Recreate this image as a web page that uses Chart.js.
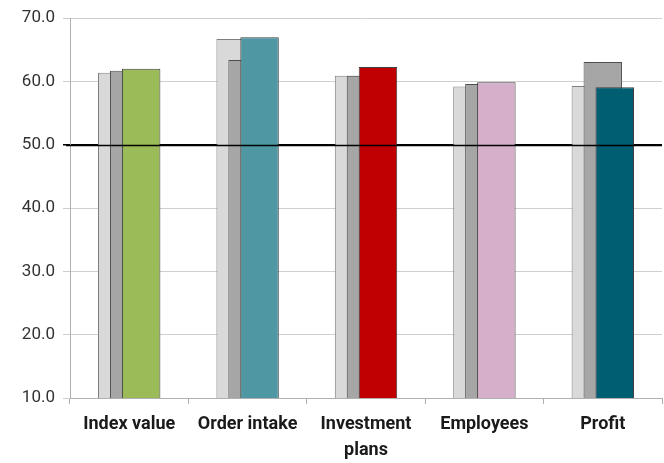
<!DOCTYPE html>
<html>
<head>
<meta charset="utf-8">
<script src="https://cdn.jsdelivr.net/npm/chart.js@4"></script>
<style>
  body { margin: 0; background: #fff; }
  #wrap { width: 664px; height: 463px; }
</style>
</head>
<body>
<div id="wrap"><canvas id="indexChart"></canvas></div>
<script>
// categories and values
const labels = ['Index value', 'Order intake', ['Investment', 'plans'], 'Employees', 'Profit'];
const previous2 = [61.4, 66.7, 60.9, 59.2, 59.3];
const previous1 = [61.7, 63.4, 60.9, 59.6, 63.1];
const current = [62.0, 67.0, 62.3, 59.9, 59.1];
const currentColors = ['#9bbb59', '#4f97a3', '#c00000', '#d6afca', '#005e72'];
const yTicks = [10, 20, 30, 40, 50, 60, 70];
const threshold = 50;

// bars overlap like in the spreadsheet: shift each series sideways a bit
const shiftBars = {
  id: 'shiftBars',
  afterDatasetsUpdate(chart) {
    const w = chart.scales.x.width / labels.length;
    chart.data.datasets.forEach((ds, i) => {
      chart.getDatasetMeta(i).data.forEach(bar => { bar.x += ds.shift * w; });
    });
  }
};

// the 50 line sits on top of the bars
const thresholdLine = {
  id: 'thresholdLine',
  afterDatasetsDraw(chart) {
    const { ctx, chartArea, scales } = chart;
    const y = Math.round(scales.y.getPixelForValue(threshold)) + 0.5;
    ctx.save();
    ctx.strokeStyle = '#000';
    ctx.lineWidth = 1.5;
    ctx.beginPath();
    ctx.moveTo(chartArea.left - 4, y);
    ctx.lineTo(chartArea.right, y);
    ctx.stroke();
    ctx.restore();
  }
};

new Chart(document.getElementById('indexChart'), {
  type: 'bar',
  data: {
    labels: labels,
    datasets: [
      { data: previous2, backgroundColor: '#d9d9d9', borderColor: '#7f7f7f', borderWidth: 1, shift: -0.101, order: 3 },
      { data: previous1, backgroundColor: '#a6a6a6', borderColor: '#4d4d4d', borderWidth: 1, shift: 0, order: 2 },
      { data: current, backgroundColor: currentColors, borderColor: '#3f3f3f', borderWidth: 1, shift: 0.101, order: 1 }
    ]
  },
  options: {
    responsive: true,
    maintainAspectRatio: false,
    animation: false,
    grouped: false,
    categoryPercentage: 1,
    barPercentage: 0.325,
    layout: { padding: { top: 8, right: 2, left: 0, bottom: 0 } },
    plugins: { legend: { display: false }, tooltip: { enabled: false } },
    scales: {
      x: {
        afterFit: axis => { axis.height = 65; },
        grid: { drawOnChartArea: false, tickLength: 6, color: '#b0b0b0', offset: true },
        border: { color: '#b0b0b0' },
        ticks: {
          color: '#1a1a1a',
          font: { family: 'Roboto', size: 18, weight: 'bold', lineHeight: 1.45 },
          padding: 7,
          maxRotation: 0,
          autoSkip: false
        }
      },
      y: {
        min: 10,
        max: 70,
        afterBuildTicks: axis => { axis.ticks = yTicks.map(v => ({ value: v })); },
        afterFit: axis => { axis.width = 70; },
        grid: {
          tickLength: 7,
          color: ctx => ctx.tick && ctx.tick.value === threshold ? '#000' : '#cfcfcf',
          lineWidth: ctx => ctx.tick && ctx.tick.value === threshold ? 1.5 : 1
        },
        border: { color: '#b0b0b0' },
        ticks: {
          color: '#333',
          font: { family: 'Roboto', size: 17 },
          padding: 8,
          callback: v => v.toFixed(1)
        }
      }
    }
  },
  plugins: [shiftBars, thresholdLine]
});
</script>
</body>
</html>
